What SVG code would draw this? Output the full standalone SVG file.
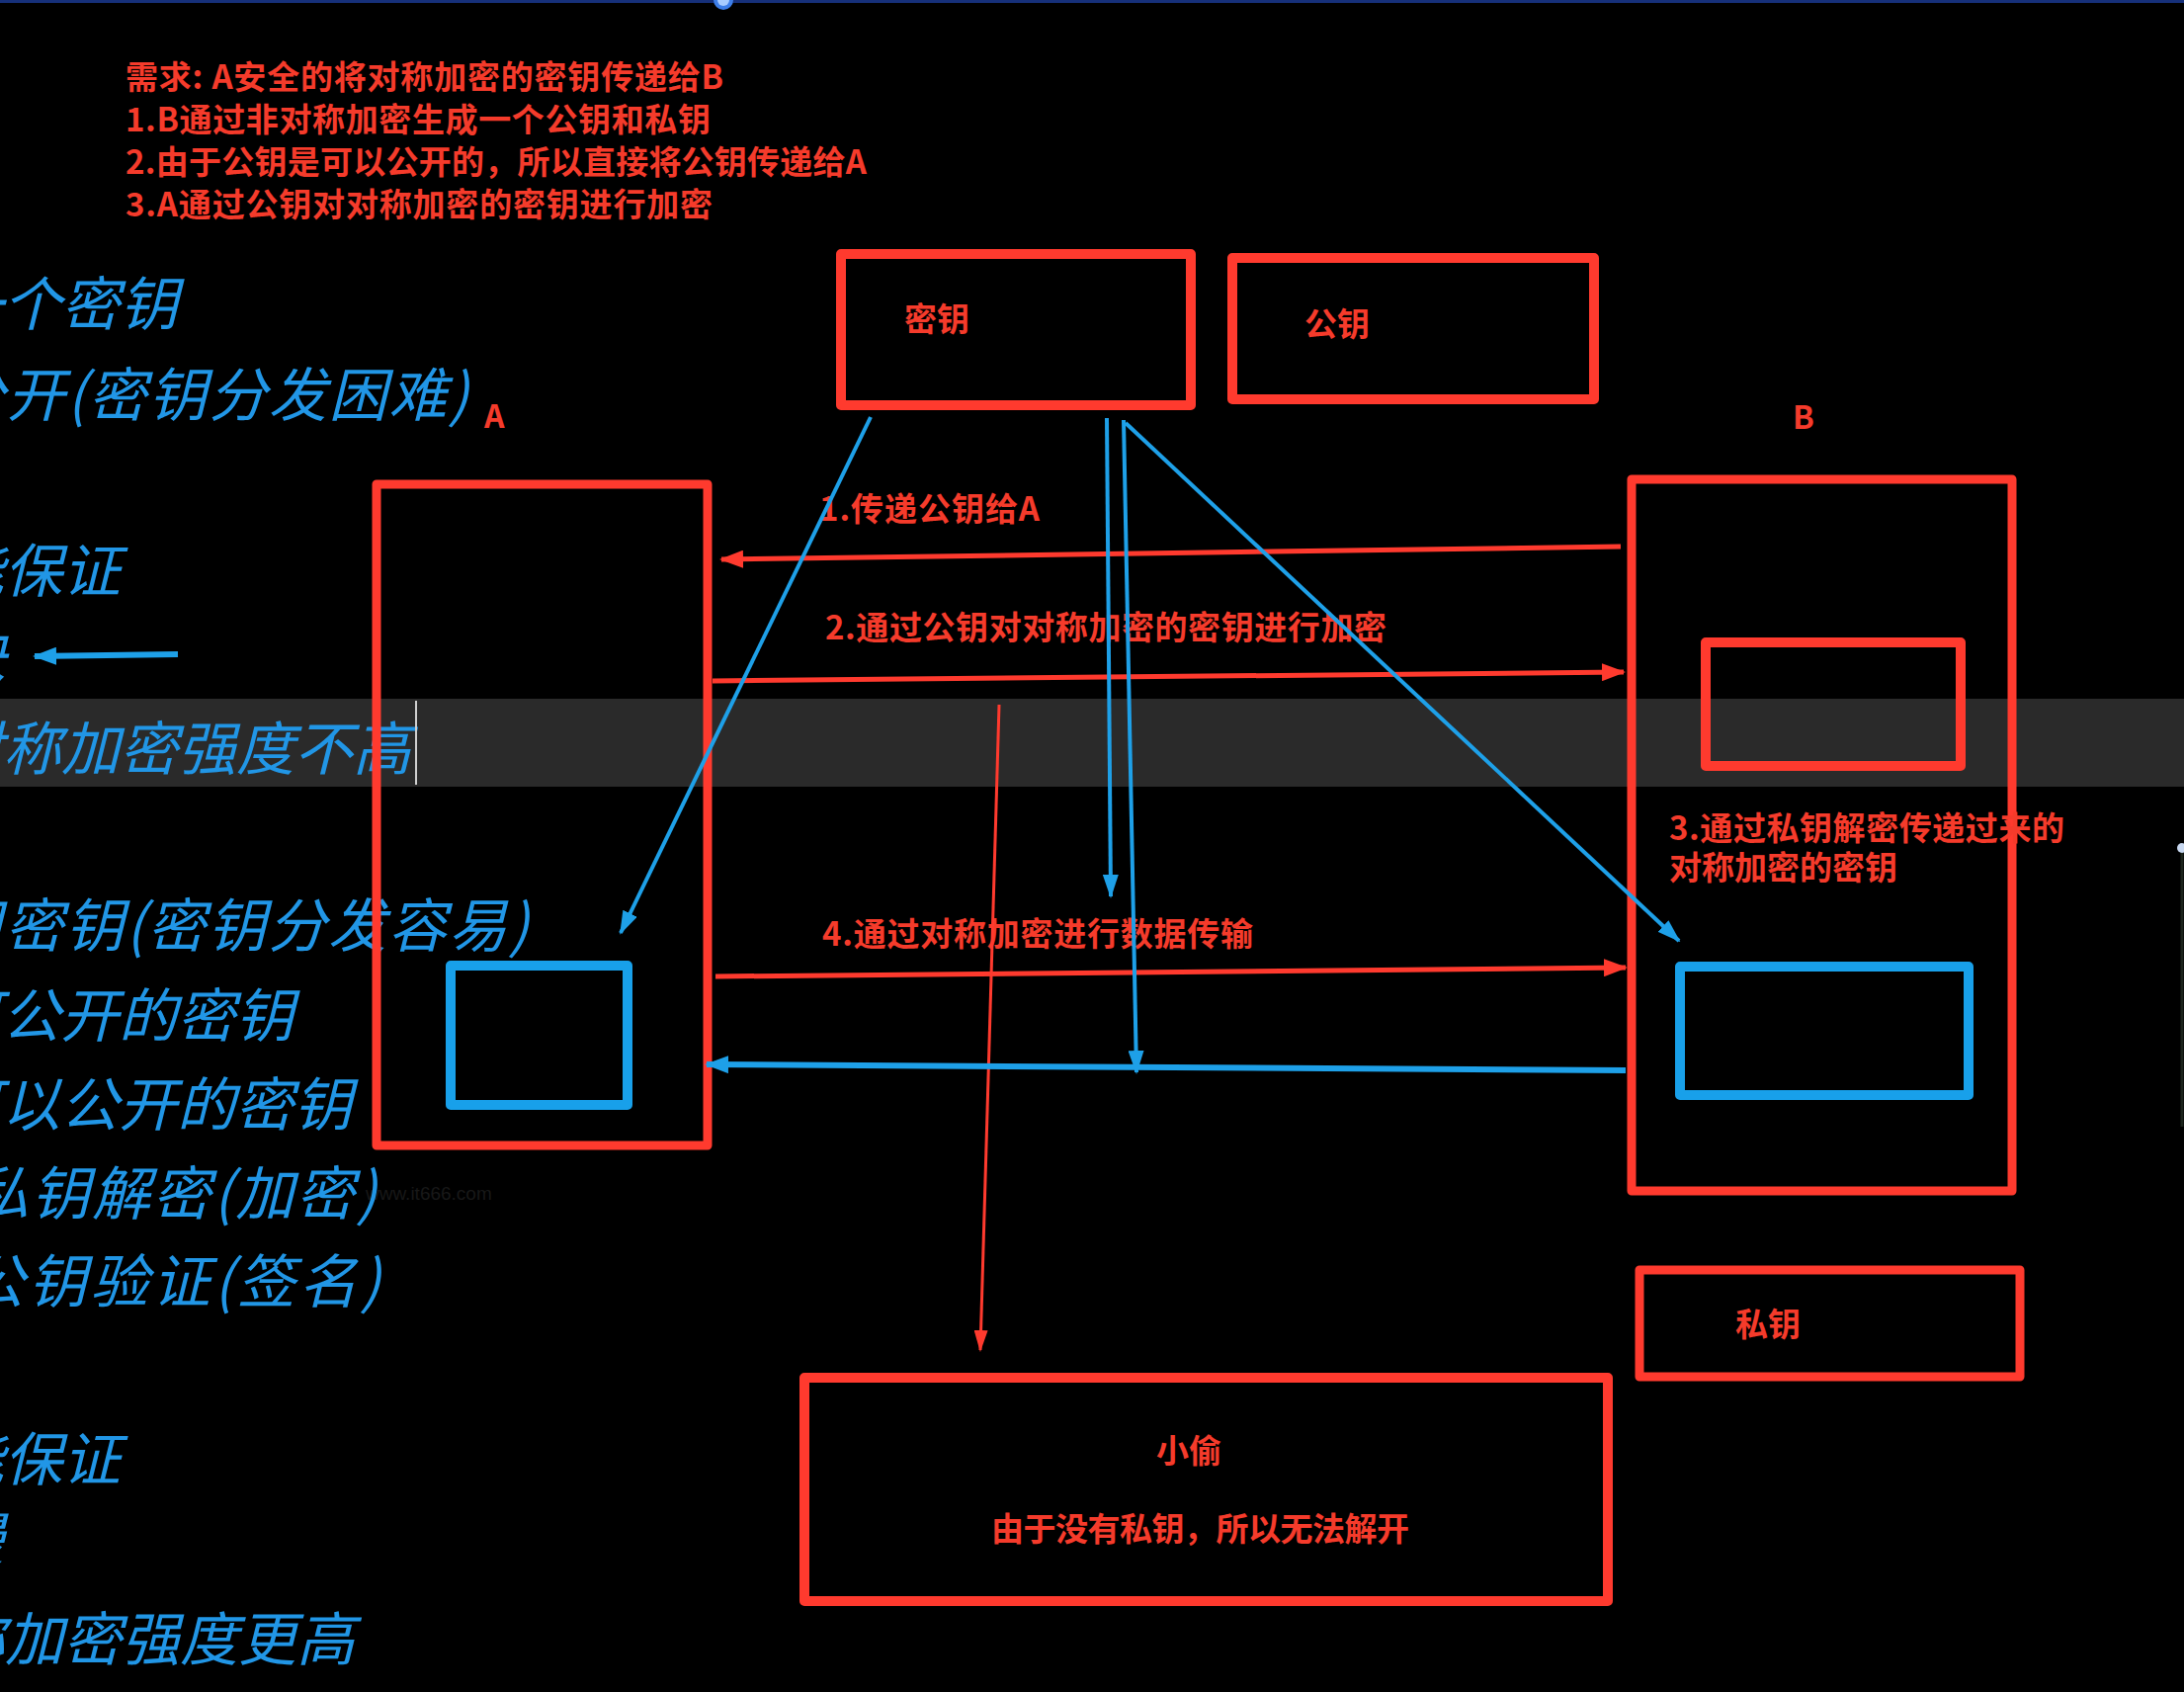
<svg xmlns="http://www.w3.org/2000/svg" width="2210" height="1712" viewBox="0 0 2210 1712">
<style>
.bg{fill:#000}
.band{fill:#2a2a2a}
.rbox{fill:none;stroke:#ff3a2e;stroke-width:10;stroke-linejoin:round}
.bbox{fill:none;stroke:#18a0ea;stroke-width:10;stroke-linejoin:round}
.lbl{font-family:"Noto Sans CJK SC","Noto Sans",sans-serif;font-weight:700;font-size:33px;fill:#f53b2b}
.side{font-family:"Noto Sans CJK SC","Noto Sans",sans-serif;font-weight:400;font-style:italic;font-size:59px;fill:#2196e6}
.rline{fill:none;stroke:#ff3a2e;stroke-width:5}
.rthin{fill:none;stroke:#ff3a2e;stroke-width:3}
.bline{fill:none;stroke:#1ea0e8;stroke-width:4}
.bwide{fill:none;stroke:#1ea0e8;stroke-width:6}
</style>
<defs>
<marker id="ahR" viewBox="0 0 24 18" markerWidth="24" markerHeight="18" refX="22" refY="9" orient="auto" markerUnits="userSpaceOnUse"><path d="M0,0 L24,9 L0,18 z" fill="#ff3a2e"/></marker>
<marker id="ahRt" viewBox="0 0 22 14" markerWidth="22" markerHeight="14" refX="20" refY="7" orient="auto" markerUnits="userSpaceOnUse"><path d="M0,0 L22,7 L0,14 z" fill="#ff3a2e"/></marker>
<marker id="ahB" viewBox="0 0 24 16" markerWidth="24" markerHeight="16" refX="22" refY="8" orient="auto" markerUnits="userSpaceOnUse"><path d="M0,0 L24,8 L0,16 z" fill="#1ea0e8"/></marker>
<marker id="ahBw" viewBox="0 0 24 18" markerWidth="24" markerHeight="18" refX="22" refY="9" orient="auto" markerUnits="userSpaceOnUse"><path d="M0,0 L24,9 L0,18 z" fill="#1ea0e8"/></marker>
</defs>

<rect class="bg" x="0" y="0" width="2210" height="1712"/>
<rect class="band" x="0" y="707" width="2210" height="89"/>

<!-- screen artifacts -->
<g id="artifacts">
<rect x="0" y="0" width="2210" height="3" fill="#16307a"/>
<circle cx="732" cy="0" r="10" fill="#3d7ee8"/>
<circle cx="732" cy="0" r="6" fill="#a8ccff"/>
<line x1="2208" y1="862" x2="2208" y2="1140" stroke="#1c241c" stroke-width="3"/>
<circle cx="2208" cy="858" r="5" fill="#c8d8f0"/>
<text x="370" y="1214" font-family="Liberation Sans, Arial, sans-serif" font-size="19" fill="#181818">www.it666.com</text>
</g>

<!-- left notes (partially cut off at the left edge) -->
<g id="notes">
<text class="side" x="-56" y="329">一个密钥</text>
<text class="side" x="-54" y="421" textLength="528">公开(密钥分发困难)</text>
<text class="side" x="-55" y="599">能保证</text>
<text class="side" x="-53" y="684">快</text>
<text class="side" x="-56" y="779">对称加密强度不高</text>
<text class="side" x="-56" y="958" textLength="591">用密钥(密钥分发容易)</text>
<text class="side" x="-57" y="1049">可公开的密钥</text>
<text class="side" x="-57" y="1139">可以公开的密钥</text>
<text class="side" x="-30" y="1229" textLength="411">私钥解密(加密)</text>
<text class="side" x="-34" y="1318" textLength="419">公钥验证(签名)</text>
<text class="side" x="-55" y="1498">能保证</text>
<text class="side" x="-55" y="1579">慢</text>
<text class="side" x="-54" y="1680">称加密强度更高</text>
<line x1="421" y1="709" x2="421" y2="794" stroke="#d0d0d0" stroke-width="2"/>
</g>

<!-- requirement text -->
<g id="requirements">
<text class="lbl" x="127" y="90" textLength="605">需求: A安全的将对称加密的密钥传递给B</text>
<text class="lbl" x="127" y="133" textLength="592">1.B通过非对称加密生成一个公钥和私钥</text>
<text class="lbl" x="127" y="176" textLength="750">2.由于公钥是可以公开的，所以直接将公钥传递给A</text>
<text class="lbl" x="127" y="219" textLength="594">3.A通过公钥对对称加密的密钥进行加密</text>
</g>

<g id="node-key">
<rect class="rbox" x="851" y="257" width="354" height="153"/>
<text class="lbl" x="915" y="335">密钥</text>
</g>

<g id="node-pubkey">
<rect class="rbox" x="1247" y="261" width="366" height="143"/>
<text class="lbl" x="1320" y="340">公钥</text>
</g>

<g id="node-A">
<text class="lbl" x="490" y="433" style="font-size:32px">A</text>
<rect class="rbox" x="381" y="490" width="335" height="669" style="stroke-width:9"/>
<rect class="bbox" x="456" y="977" width="179" height="141"/>
</g>

<g id="node-B">
<text class="lbl" x="1814" y="434" style="font-size:32px">B</text>
<rect class="rbox" x="1651" y="485" width="385" height="720" style="stroke-width:9"/>
<rect class="rbox" x="1726" y="650" width="258" height="125"/>
<rect class="bbox" x="1700" y="978" width="292" height="130"/>
<text class="lbl" x="1689" y="850" textLength="400">3.通过私钥解密传递过来的</text>
<text class="lbl" x="1689" y="890">对称加密的密钥</text>
</g>

<g id="node-privkey">
<rect class="rbox" x="1659" y="1285" width="385" height="108" style="stroke-width:9"/>
<text class="lbl" x="1756" y="1352">私钥</text>
</g>

<g id="node-thief">
<rect class="rbox" x="814" y="1394" width="813" height="226"/>
<text class="lbl" x="1170" y="1480">小偷</text>
<text class="lbl" x="1003" y="1559" textLength="423">由于没有私钥，所以无法解开</text>
</g>

<g id="connectors">
<path class="rline" d="M1640,553 L730,566" marker-end="url(#ahR)"/>
<text class="lbl" x="829" y="527" textLength="223">1.传递公钥给A</text>
<path class="rline" d="M721,689 L1643,680" marker-end="url(#ahR)"/>
<text class="lbl" x="835" y="647" textLength="568">2.通过公钥对对称加密的密钥进行加密</text>
<path class="rline" d="M724,988 L1645,979" marker-end="url(#ahR)"/>
<text class="lbl" x="832" y="957" textLength="436">4.通过对称加密进行数据传输</text>
<path class="rthin" d="M1011,713 L992,1366" marker-end="url(#ahRt)"/>
<path class="bline" d="M881,422 L628,944" marker-end="url(#ahB)"/>
<path class="bline" d="M1120,423 L1124,907" marker-end="url(#ahB)"/>
<path class="bline" d="M1137,425 L1150,1085" marker-end="url(#ahB)"/>
<path class="bline" d="M1139,428 L1699,952" marker-end="url(#ahB)"/>
<path class="bwide" d="M1645,1083 L715,1077" marker-end="url(#ahBw)"/>
<path class="bwide" d="M180,662 L35,664" marker-end="url(#ahBw)"/>
</g>
</svg>
